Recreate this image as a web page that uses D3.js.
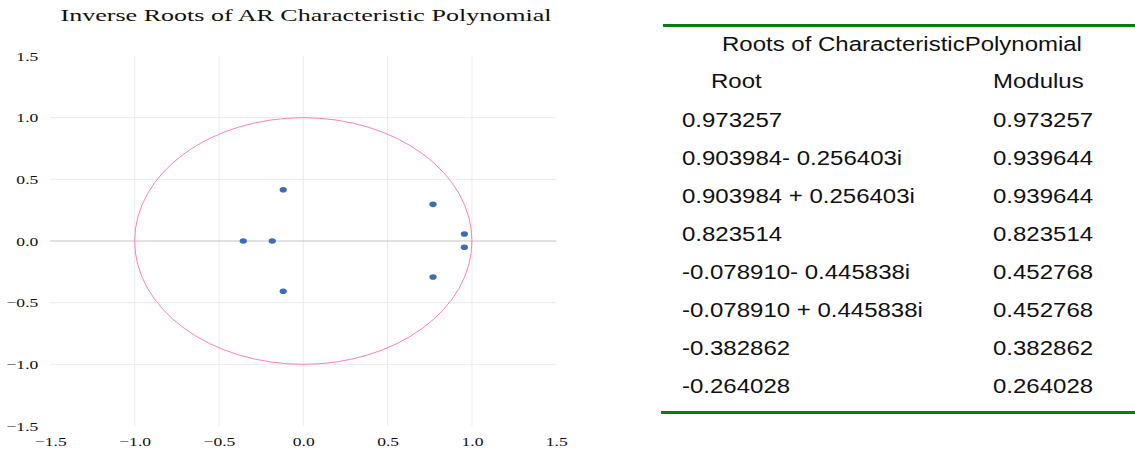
<!DOCTYPE html>
<html><head><meta charset="utf-8">
<script src="https://cdn.jsdelivr.net/npm/d3@7"></script>
<style>body{margin:0;background:#fff}svg{display:block}</style>
</head><body>
<svg id="c" width="1135" height="450"></svg>
<script>
const pointRe = [-0.119, 0.769, 0.955, 0.955, 0.769, -0.119, -0.356, -0.184];
const pointIm = [0.416, 0.297, 0.057, -0.051, -0.292, -0.408, 0, 0];
const tickVals = [-1.5, -1.0, -0.5, 0.0, 0.5, 1.0, 1.5];
const gridVals = [-1.0, -0.5, 0.5, 1.0];
// table data
const rootLabels = ["0.973257", "0.903984- 0.256403i", "0.903984 + 0.256403i", "0.823514",
  "-0.078910- 0.445838i", "-0.078910 + 0.445838i", "-0.382862", "-0.264028"];
const moduli = ["0.973257", "0.939644", "0.939644", "0.823514", "0.452768", "0.452768", "0.382862", "0.264028"];

const svg = d3.select("#c");
const x = d3.scaleLinear().domain([-1.5, 1.5]).range([50.3, 556.3]);
const y = d3.scaleLinear().domain([-1.5, 1.5]).range([426, 56]);

function stretch(sel, f) {
  sel.each(function () {
    const len = this.getComputedTextLength();
    d3.select(this).attr("textLength", len * f).attr("lengthAdjust", "spacingAndGlyphs");
  });
}

// title
svg.append("text").attr("x", 306).attr("y", 21).attr("text-anchor", "middle")
  .attr("font-family", "Liberation Serif").attr("font-size", 17.5)
  .attr("textLength", 491).attr("lengthAdjust", "spacingAndGlyphs")
  .attr("fill", "#111").text("Inverse Roots of AR Characteristic Polynomial");

// gridlines
svg.append("g").selectAll("line").data(gridVals).join("line")
  .attr("x1", d => x(d)).attr("x2", d => x(d)).attr("y1", y(1.5)).attr("y2", y(-1.5))
  .attr("stroke", "#ebebeb").attr("stroke-width", 1);
svg.append("g").selectAll("line").data(gridVals).join("line")
  .attr("y1", d => y(d)).attr("y2", d => y(d)).attr("x1", x(-1.5)).attr("x2", x(1.5))
  .attr("stroke", "#ebebeb").attr("stroke-width", 1);
svg.append("line").attr("x1", x(0)).attr("x2", x(0)).attr("y1", y(1.5)).attr("y2", y(-1.5))
  .attr("stroke", "#ebebeb").attr("stroke-width", 1);
svg.append("line").attr("x1", x(-1.5)).attr("x2", x(1.5)).attr("y1", y(0)).attr("y2", y(0))
  .attr("stroke", "#c4c4c4").attr("stroke-width", 1);

// axes labels
const yAxis = d3.axisLeft(y).tickValues(tickVals).tickFormat(d3.format(".1f")).tickSize(0).tickPadding(12);
const gy = svg.append("g").attr("transform", `translate(${x(-1.5)},0)`).call(yAxis);
gy.select(".domain").remove();
gy.selectAll("text").attr("font-family", "Liberation Serif").attr("font-size", 13.5)
  .attr("fill", "#111").call(stretch, 1.3);
const xAxis = d3.axisBottom(x).tickValues(tickVals).tickFormat(d3.format(".1f")).tickSize(0).tickPadding(10.5);
const gx = svg.append("g").attr("transform", `translate(0,${y(-1.5)})`).call(xAxis);
gx.select(".domain").remove();
gx.selectAll("text").attr("font-family", "Liberation Serif").attr("font-size", 13.5)
  .attr("fill", "#111").call(stretch, 1.3);

// unit circle
svg.append("ellipse").attr("cx", x(0)).attr("cy", y(0))
  .attr("rx", x(1) - x(0)).attr("ry", y(0) - y(1))
  .attr("fill", "none").attr("stroke", "#ff7fc0").attr("stroke-width", 1);

// points
svg.append("g").selectAll("ellipse").data(pointRe.map((r, i) => [r, pointIm[i]])).join("ellipse")
  .attr("cx", d => x(d[0])).attr("cy", d => y(d[1])).attr("rx", 3.6).attr("ry", 2.8)
  .attr("fill", "#3d6db5");

// table
const t = svg.append("g");
t.append("line").attr("x1", 663).attr("x2", 1135).attr("y1", 25.5).attr("y2", 25.5)
  .attr("stroke", "#0a7d0a").attr("stroke-width", 3);
t.append("line").attr("x1", 661).attr("x2", 1135).attr("y1", 412.5).attr("y2", 412.5)
  .attr("stroke", "#0a7d0a").attr("stroke-width", 3);
const tf = "Liberation Sans";
t.append("text").attr("x", 902).attr("y", 51).attr("text-anchor", "middle")
  .attr("font-family", tf).attr("font-size", 20.5).attr("fill", "#111")
  .text("Roots of CharacteristicPolynomial").call(stretch, 1.17);
t.append("text").attr("x", 711).attr("y", 88).attr("font-family", tf).attr("font-size", 20.5)
  .attr("fill", "#111").text("Root").call(stretch, 1.17);
t.append("text").attr("x", 993).attr("y", 88).attr("font-family", tf).attr("font-size", 20.5)
  .attr("fill", "#111").text("Modulus").call(stretch, 1.17);
const rowY = d3.scaleLinear().domain([0, 7]).range([126.5, 393]);
t.selectAll(".r").data(rootLabels).join("text").attr("class", "r")
  .attr("x", 682).attr("y", (d, i) => rowY(i)).attr("font-family", tf).attr("font-size", 20)
  .attr("fill", "#111").text(d => d).call(stretch, 1.2);
t.selectAll(".m").data(moduli).join("text").attr("class", "m")
  .attr("x", 993).attr("y", (d, i) => rowY(i)).attr("font-family", tf).attr("font-size", 20)
  .attr("fill", "#111").text(d => d).call(stretch, 1.2);
</script>
</body></html>
